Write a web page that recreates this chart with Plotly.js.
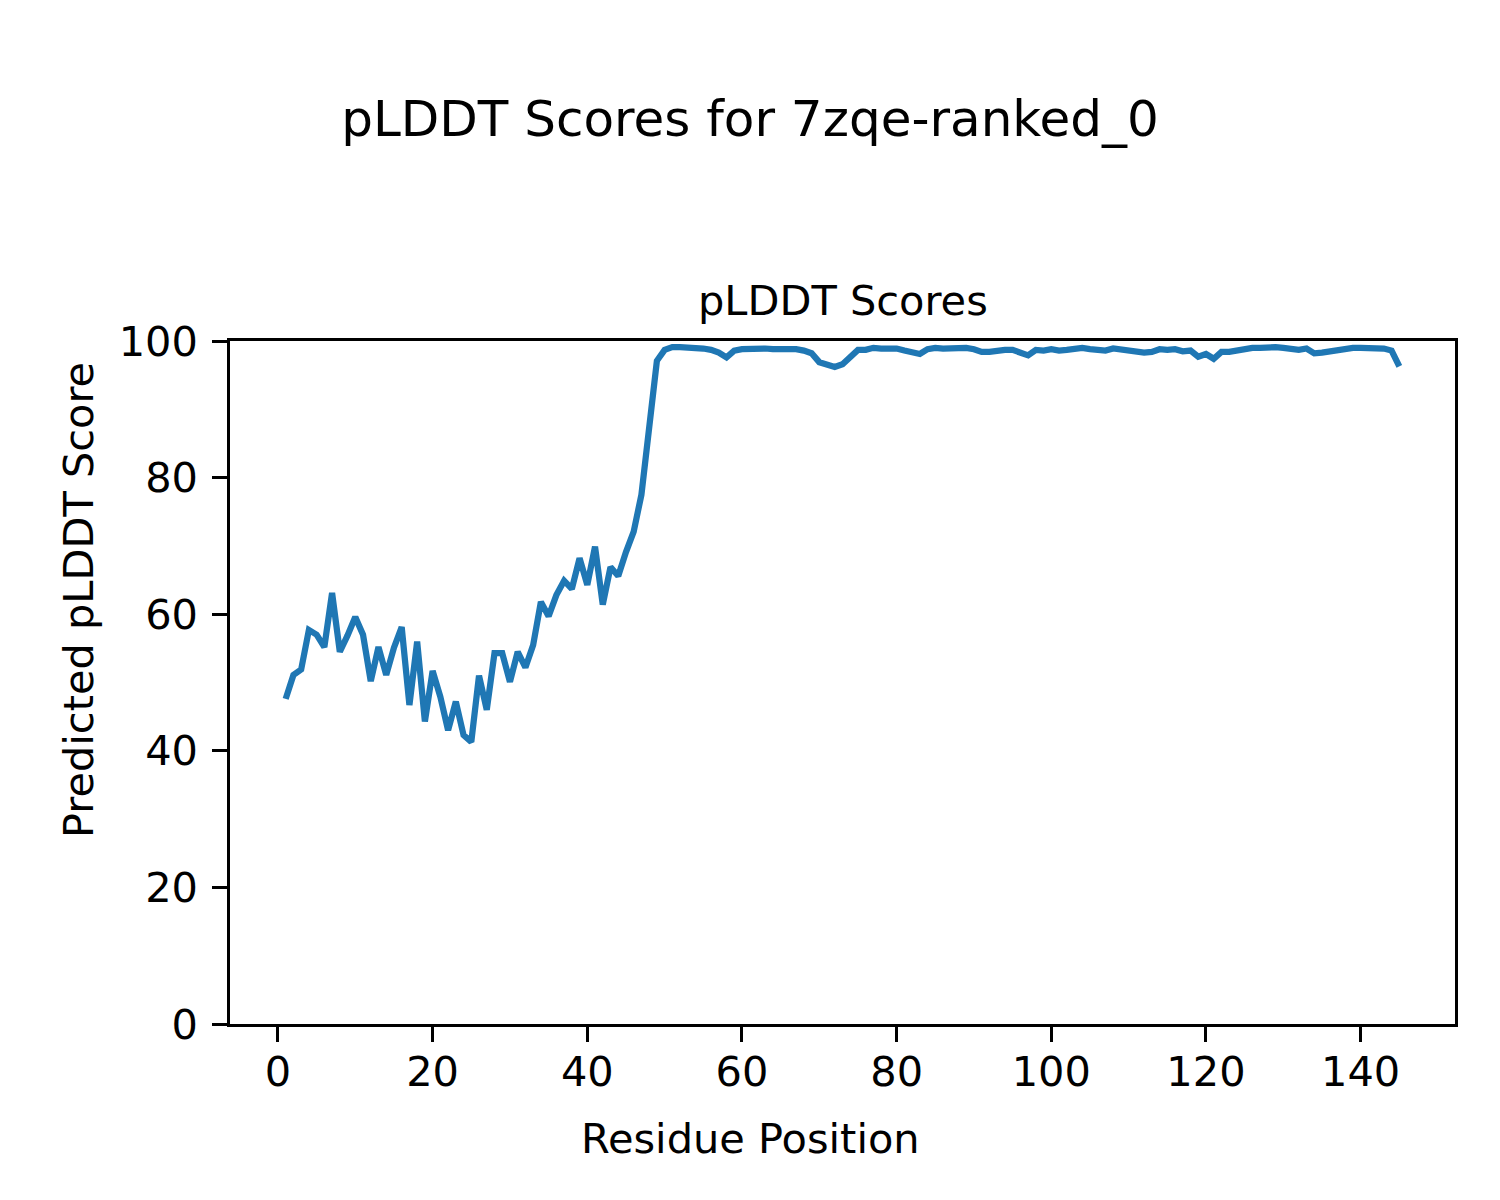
<!DOCTYPE html>
<html>
<head>
<meta charset="utf-8">
<script src="https://cdn.plot.ly/plotly-3.0.1.min.js"></script>
<style>html,body{margin:0;padding:0;background:#fff;}#chart{width:1500px;height:1200px;}</style>
</head>
<body>
<div id="chart"></div>
<script>
const residues = Array.from({length: 145}, (_, i) => i + 1);
const plddt = [
  47.6, 51.1, 51.9, 57.7, 57.0, 55.2, 63.1, 54.5, 56.9, 59.6,
  57.0, 50.2, 55.2, 51.1, 55.1, 58.1, 46.7, 56.0, 44.3, 51.7,
  47.9, 43.0, 47.2, 42.3, 41.3, 51.0, 46.0, 54.3, 54.3, 50.1,
  54.5, 52.2, 55.5, 61.8, 59.7, 62.8, 64.9, 63.7, 68.2, 64.3,
  69.9, 61.4, 66.9, 65.6, 69.1, 72.1, 77.5, 87.5, 97.1, 98.7,
  99.1, 99.1, 99.1, 99.0, 98.9, 98.7, 98.3, 97.6, 98.6, 98.8,
  98.9, 99.0, 98.9, 98.8, 98.8, 98.9, 98.8, 98.6, 98.2, 96.9,
  96.6, 96.2, 96.6, 97.7, 98.7, 98.7, 99.0, 98.9, 98.9, 98.9,
  98.6, 98.3, 98.1, 98.8, 99.0, 98.9, 99.0, 99.0, 99.0, 98.8,
  98.4, 98.4, 98.6, 98.7, 98.7, 98.2, 97.9, 98.7, 98.6, 98.8,
  98.6, 98.7, 98.9, 99.0, 98.8, 98.6, 98.6, 98.9, 98.7, 98.7,
  98.4, 98.3, 98.4, 98.8, 98.7, 98.8, 98.5, 98.6, 97.7, 98.1,
  97.4, 98.4, 98.4, 98.6, 99.0, 99.0, 99.0, 99.1, 99.1, 99.0,
  98.9, 98.7, 98.9, 98.2, 98.3, 98.5, 98.7, 99.0, 99.0, 99.0,
  99.0, 99.0, 98.9, 98.6, 96.3
];
const xTicks = [0, 20, 40, 60, 80, 100, 120, 140];
const yTicks = [0, 20, 40, 60, 80, 100];

const font = 'DejaVu Sans, Liberation Sans, sans-serif';

// plot-area geometry in pixels (used only to place figure-level labels)
const L = 230, R = 1455, T = 341, B = 1024;
const toPaperX = px => (px - L) / (R - L);
const toPaperY = py => (B - py) / (B - T);

const trace = {
  x: residues,
  y: plddt,
  type: 'scatter',
  mode: 'lines',
  line: {color: '#1f77b4', width: 6.25},
  hoverinfo: 'x+y'
};

const axisCommon = {
  showgrid: false,
  zeroline: false,
  showline: true,
  mirror: true,
  linecolor: '#000',
  linewidth: 3.3,
  ticks: 'outside',
  ticklen: 14.6,
  tickwidth: 3.3,
  tickcolor: '#000',
  tickfont: {family: font, size: 41.5, color: '#000'},
  automargin: false
};

const labelFont = {family: font, size: 41.5, color: '#000'};

const layout = {
  width: 1500,
  height: 1200,
  paper_bgcolor: '#fff',
  plot_bgcolor: '#fff',
  showlegend: false,
  margin: {l: L, r: 1500 - R, t: T, b: 1200 - B, pad: 0},
  title: {
    text: 'pLDDT Scores for 7zqe-ranked_0',
    font: {family: font, size: 50, color: '#000'},
    x: 0.5, xref: 'container', xanchor: 'center',
    y: 1 - 118 / 1200, yref: 'container', yanchor: 'middle'
  },
  xaxis: Object.assign({}, axisCommon, {
    range: [-6.2, 152.2],
    tickvals: xTicks,
    ticktext: xTicks.map(String),
    ticklabelstandoff: -6
  }),
  yaxis: Object.assign({}, axisCommon, {
    range: [0, 100],
    tickvals: yTicks,
    ticktext: yTicks.map(String),
    ticklabelstandoff: 6
  }),
  annotations: [
    {
      text: 'pLDDT Scores',
      xref: 'paper', yref: 'paper',
      x: 0.5, y: 1, xanchor: 'center', yanchor: 'bottom',
      yshift: 14,
      showarrow: false,
      font: labelFont
    },
    {
      text: 'Residue Position',
      xref: 'paper', yref: 'paper',
      x: toPaperX(750), y: toPaperY(1138), xanchor: 'center', yanchor: 'middle',
      showarrow: false,
      font: labelFont
    },
    {
      text: 'Predicted pLDDT Score',
      xref: 'paper', yref: 'paper',
      x: toPaperX(78), y: toPaperY(600), xanchor: 'center', yanchor: 'middle',
      textangle: -90,
      showarrow: false,
      font: labelFont
    }
  ]
};

Plotly.newPlot('chart', [trace], layout, {displayModeBar: false});
</script>
</body>
</html>
